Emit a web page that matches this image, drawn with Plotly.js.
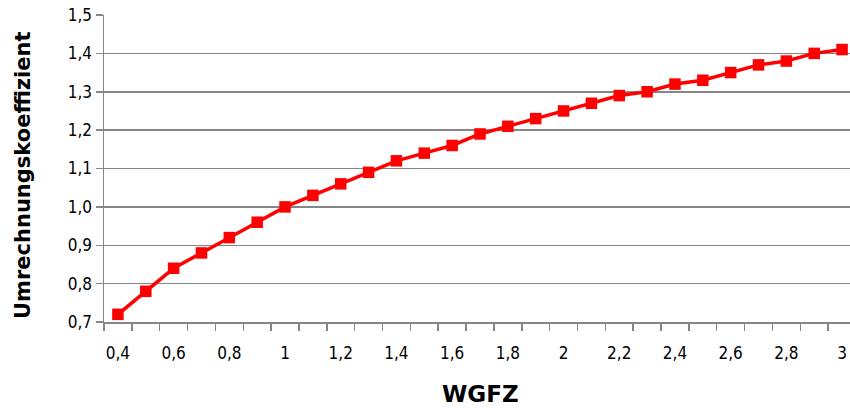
<!DOCTYPE html>
<html><head><meta charset="utf-8">
<script src="https://cdn.plot.ly/plotly-3.0.1.min.js"></script>
<style>html,body{margin:0;padding:0;overflow:hidden;background:#fff}#chart{width:856px;height:408px}</style>
</head><body><div id="chart"></div>
<script>
const wgfz = [0.4,0.5,0.6,0.7,0.8,0.9,1.0,1.1,1.2,1.3,1.4,1.5,1.6,1.7,1.8,1.9,2.0,2.1,2.2,2.3,2.4,2.5,2.6,2.7,2.8,2.9,3.0];
const koeffizient = [0.72,0.78,0.84,0.88,0.92,0.96,1.00,1.03,1.06,1.09,1.12,1.14,1.16,1.19,1.21,1.23,1.25,1.27,1.29,1.30,1.32,1.33,1.35,1.37,1.38,1.40,1.41];
const xTickVals = [0.4,0.6,0.8,1.0,1.2,1.4,1.6,1.8,2.0,2.2,2.4,2.6,2.8,3.0];
const xTickText = ["0,4","0,6","0,8","1","1,2","1,4","1,6","1,8","2","2,2","2,4","2,6","2,8","3"];
const xTitle = 'WGFZ';
const yTitle = 'Umrechnungskoeffizient';
const catBounds = wgfz.map(v => +(v - 0.05).toFixed(2)).concat([3.05]);

const font = "'Liberation Sans Narrow', 'Arial Narrow', 'DejaVu Sans Condensed', sans-serif";
const boldFont = "'DejaVu Sans', sans-serif";
const grid = '#868686';

Plotly.newPlot('chart', [{
  x: wgfz, y: koeffizient, type: 'scatter', mode: 'lines+markers',
  line: {color: '#FF0000', width: 3.5},
  marker: {symbol: 'square', size: 11.5, color: '#FF0000'}
}], {
  width: 856, height: 408,
  margin: {l: 104, r: 0, t: 15, b: 86},
  separators: ',.',
  paper_bgcolor: '#fff', plot_bgcolor: '#fff',
  showlegend: false,
  font: {family: font, color: '#000'},
  xaxis: {
    range: [0.35, 3.05], tickvals: xTickVals, ticktext: xTickText,
    ticks: '', showgrid: false, zeroline: false,
    showline: true, linecolor: grid, linewidth: 1.5,
    tickfont: {size: 17, family: font}, ticklabelstandoff: 15,
    minor: {tickvals: catBounds, ticks: 'outside', ticklen: 7, tickcolor: grid, tickwidth: 1.5, showgrid: false}
  },
  yaxis: {
    range: [0.7, 1.5], dtick: 0.1, tickformat: '.1f',
    showgrid: true, gridcolor: grid, gridwidth: 1.5, zeroline: false,
    showline: true, linecolor: grid, linewidth: 1.5,
    ticks: 'outside', ticklen: 7, tickcolor: grid, tickwidth: 1.5,
    tickfont: {size: 17, family: font}
  },
  annotations: [
    {text: xTitle, xref: 'paper', yref: 'paper', x: 0.501, y: -0.2345, xanchor: 'center', yanchor: 'middle',
     showarrow: false, font: {size: 23, family: boldFont, weight: 'bold', color: '#000'}},
    {text: yTitle, xref: 'paper', yref: 'paper', x: -0.1077, y: 0.4756, xanchor: 'center', yanchor: 'middle',
     textangle: -90, showarrow: false, font: {size: 21, family: boldFont, weight: 'bold', color: '#000'}}
  ]
}, {displayModeBar: false, staticPlot: true});
</script></body></html>
